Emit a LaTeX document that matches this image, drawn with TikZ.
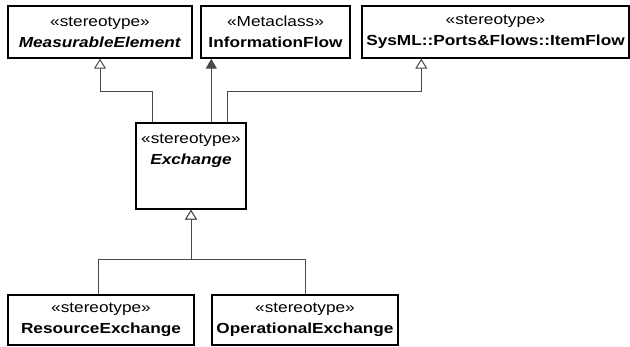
\documentclass[tikz,border=0pt]{standalone}
\usepackage{fontspec}
\setmainfont[FakeStretch=1.18]{Liberation Sans}
\usepackage{tikz}
\usetikzlibrary{arrows.meta}

\definecolor{linegray}{HTML}{4A4A4A}
\tikzset{
  umlbox/.style={draw=black, line width=1.4pt, fill=white, align=center,
    inner sep=0pt, font=\fontsize{14.6}{21}\selectfont},
  gen/.style={draw=linegray, line width=1pt, -{Triangle[open, length=10pt, width=12pt, fill=white]}},
  assoc/.style={draw=linegray, line width=1pt, -{Triangle[length=10pt, width=11pt]}, fill=linegray},
}

\begin{document}
\begin{tikzpicture}[x=1pt, y=-1pt]
\useasboundingbox (0,0) rectangle (630,346);

% top row
\node[umlbox, minimum width=184, minimum height=52] (meas) at (100,32)
  {«stereotype»\\\textbf{\textit{MeasurableElement}}};
\node[umlbox, minimum width=149, minimum height=52] (info) at (275.5,32)
  {«Metaclass»\\\textbf{InformationFlow}};
\node[umlbox, minimum width=267, minimum height=52] (item) at (495.5,32)
  {«stereotype»\\\textbf{SysML::Ports\&Flows::ItemFlow}};

% middle
\node[umlbox, minimum width=110, minimum height=86] (exch) at (191,166) {};
\node[anchor=north, align=center, inner sep=0pt, font=\fontsize{14.6}{21}\selectfont]
  (exchname) at ([yshift=-12pt]exch.north) {«stereotype»\\\textbf{\textit{Exchange}}};

% bottom row
\node[umlbox, minimum width=186, minimum height=50] (res) at (101,320)
  {«stereotype»\\\textbf{ResourceExchange}};
\node[umlbox, minimum width=186, minimum height=50] (oper) at (305,320)
  {«stereotype»\\\textbf{OperationalExchange}};

\draw[gen] ([xshift=17pt]exch.north west) -- ++(0,-31) -| (meas.south);
\draw[assoc] ([xshift=76pt]exch.north west) -- ([xshift=76pt]exch.north west |- info.south);
\draw[gen] ([xshift=92pt]exch.north west) -- ++(0,-31) -| ([xshift=60pt]item.south west);

\draw[gen] ([xshift=-3pt]res.north) -- ++(0,-35) -| (exch.south);
\draw[gen] (oper.north) -- ++(0,-35) -| (exch.south);

\end{tikzpicture}
\end{document}
